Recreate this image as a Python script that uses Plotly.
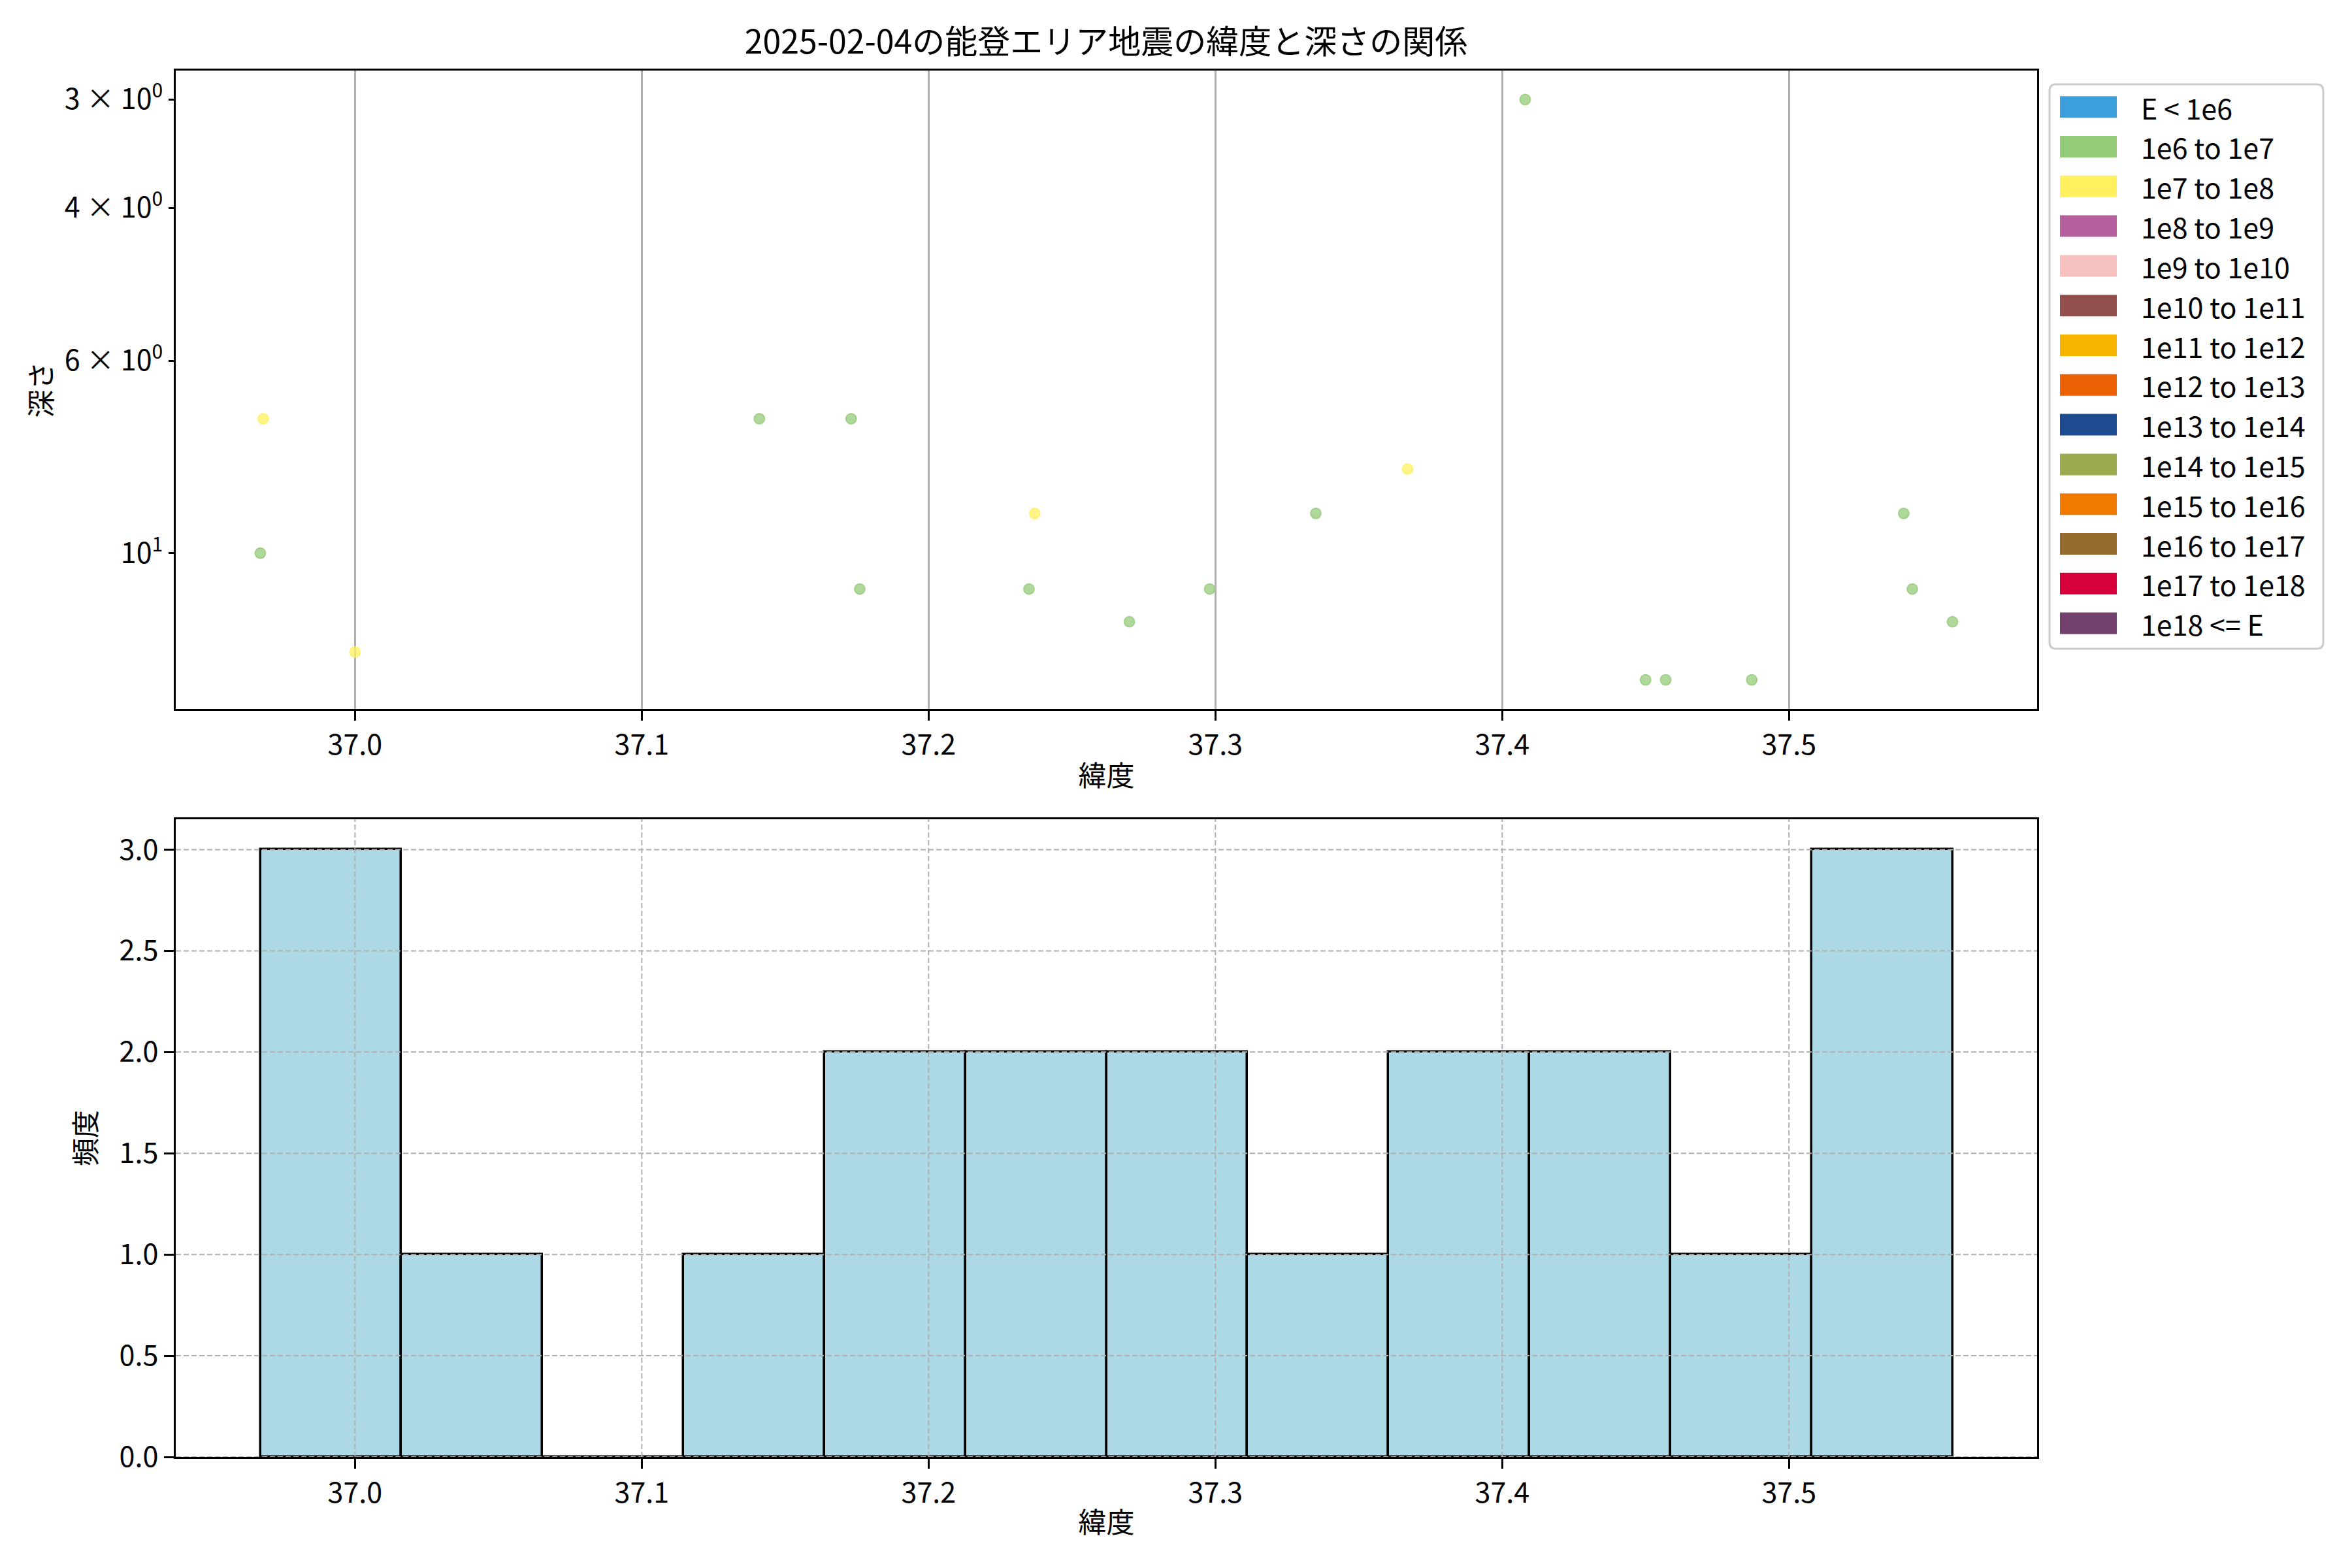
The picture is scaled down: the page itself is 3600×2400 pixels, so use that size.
import numpy as np
import plotly.graph_objects as go

# ---------------- data ----------------
title_text = "2025-02-04の能登エリア地震の緯度と深さの関係"
latitudes = [36.968, 36.967, 37.000, 37.041, 37.141, 37.173, 37.176, 37.237, 37.235, 37.270,
             37.298, 37.335, 37.367, 37.408, 37.450, 37.457, 37.487, 37.540, 37.543, 37.557]
depths = [7, 10, 13, 0, 7, 7, 11, 9, 11, 12,
          11, 9, 8, 3, 14, 14, 14, 9, 11, 12]
energy_class = ["1e7 to 1e8", "1e6 to 1e7", "1e7 to 1e8", "1e6 to 1e7", "1e6 to 1e7",
                "1e6 to 1e7", "1e6 to 1e7", "1e7 to 1e8", "1e6 to 1e7", "1e6 to 1e7",
                "1e6 to 1e7", "1e6 to 1e7", "1e7 to 1e8", "1e6 to 1e7", "1e6 to 1e7",
                "1e6 to 1e7", "1e6 to 1e7", "1e6 to 1e7", "1e6 to 1e7", "1e6 to 1e7"]
legend_labels = ["E < 1e6", "1e6 to 1e7", "1e7 to 1e8", "1e8 to 1e9", "1e9 to 1e10",
                 "1e10 to 1e11", "1e11 to 1e12", "1e12 to 1e13", "1e13 to 1e14",
                 "1e14 to 1e15", "1e15 to 1e16", "1e16 to 1e17", "1e17 to 1e18", "1e18 <= E"]
legend_colors = ["#3A9FDB", "#94CB78", "#FFF05F", "#B660A0", "#F5C0BD", "#934F4B",
                 "#F7B500", "#EB6103", "#1C4B8F", "#9BAA4F", "#F07A00", "#946B2D",
                 "#D8003A", "#74406E"]
x_ticks = [37.0, 37.1, 37.2, 37.3, 37.4, 37.5]
depth_label_ticks = [3, 4, 6, 10]
depth_label_text = ["3 × 10<sup>0</sup>", "4 × 10<sup>0</sup>", "6 × 10<sup>0</sup>", "10<sup>1</sup>"]
depth_minor_ticks = [5, 7, 8, 9]
depth_major_ticks = [10]
count_ticks = [0.0, 0.5, 1.0, 1.5, 2.0, 2.5, 3.0]
n_bins = 12

# ---------------- figure geometry ----------------
W, H = 3600, 2400
FONT = "Noto Sans CJK JP"
FS = 43

def px_x(p):
    return p / W

def px_y(p):
    return 1 - p / H

x_dom = [px_x(269), px_x(3118)]
top_dom = [px_y(1085), px_y(108)]
bot_dom = [px_y(2230), px_y(1254)]

lat = np.array(latitudes)
dep = np.array(depths, dtype=float)
span = lat.max() - lat.min()
x_range = [lat.min() - 0.05 * span, lat.max() + 0.05 * span]

pos = dep[dep > 0]
lmin, lmax = np.log10(pos.min()), np.log10(pos.max())
lspan = lmax - lmin
y_range_log = [lmax + 0.05 * lspan, lmin - 0.05 * lspan]  # inverted

counts, edges = np.histogram(lat, bins=n_bins)
centers = (edges[:-1] + edges[1:]) / 2
widths = np.diff(edges)

color_map = dict(zip(legend_labels, legend_colors))

def rgba(hexc, a):
    h = hexc.lstrip("#")
    r, g, b = int(h[0:2], 16), int(h[2:4], 16), int(h[4:6], 16)
    return f"rgba({r},{g},{b},{a})"

fig = go.Figure()

for lab in legend_labels:
    idx = [i for i, c in enumerate(energy_class) if c == lab]
    if not idx:
        continue
    fig.add_trace(go.Scatter(
        x=[latitudes[i] for i in idx], y=[depths[i] for i in idx],
        mode="markers", name=lab, showlegend=False,
        marker=dict(size=16, color=rgba(color_map[lab], 0.75),
                    line=dict(color=rgba(color_map[lab], 0.8), width=1.8)),
        xaxis="x", yaxis="y"))

fig.add_trace(go.Bar(
    x=centers, y=counts, width=widths, showlegend=False,
    marker=dict(color="#ADD8E6", line=dict(color="black", width=3.5)),
    xaxis="x2", yaxis="y2"))

axis_common = dict(
    showline=True, linecolor="black", linewidth=3.3, mirror=True,
    ticks="outside", tickcolor="black", tickwidth=3.3,
    tickfont=dict(family=FONT, size=FS, color="black"),
    zeroline=False, automargin=False,
)
overlay_common = dict(
    overlaying="y", anchor="x", side="left", type="log", range=y_range_log,
    tickmode="array", ticks="outside", tickcolor="black", tickwidth=3.3,
    showline=False, zeroline=False, showticklabels=False, automargin=False,
)

fig.update_layout(
    width=W, height=H, autosize=False,
    margin=dict(l=0, r=0, t=0, b=0, autoexpand=False),
    showlegend=False,
    paper_bgcolor="white", plot_bgcolor="white",
    font=dict(family=FONT, size=FS, color="black"),
    title=dict(text=title_text, x=px_x(1693), xanchor="center",
               y=px_y(64), yanchor="middle",
               font=dict(family=FONT, size=50, color="black")),
    xaxis=dict(domain=x_dom, anchor="y", range=x_range,
               tickmode="array", tickvals=x_ticks, ticktext=[f"{v:.1f}" for v in x_ticks],
               ticklen=15, showgrid=True, gridcolor="#b0b0b0", gridwidth=3,
               title=dict(text="緯度", font=dict(family=FONT, size=FS), standoff=8),
               **axis_common),
    yaxis=dict(domain=top_dom, anchor="x", type="log", range=y_range_log,
               tickmode="array", tickvals=depth_label_ticks, ticktext=depth_label_text,
               ticklen=8, showgrid=False,
               title=dict(text="深さ", font=dict(family=FONT, size=FS), standoff=6),
               **axis_common),
    yaxis3=dict(tickvals=depth_minor_ticks, ticklen=8, showgrid=False, **overlay_common),
    yaxis4=dict(tickvals=depth_major_ticks, ticklen=15, showgrid=True,
                gridcolor="#b0b0b0", gridwidth=3, **overlay_common),
    xaxis2=dict(domain=x_dom, anchor="y2", range=x_range,
                tickmode="array", tickvals=x_ticks, ticktext=[f"{v:.1f}" for v in x_ticks],
                ticklen=15, showgrid=False,
                title=dict(text="緯度", font=dict(family=FONT, size=FS), standoff=6),
                **axis_common),
    yaxis2=dict(domain=bot_dom, anchor="x2", range=[0, counts.max() * 1.05],
                tickmode="array", tickvals=count_ticks, ticktext=[f"{v:.1f}" for v in count_ticks],
                ticklen=15, showgrid=False,
                title=dict(text="頻度", font=dict(family=FONT, size=FS), standoff=22),
                **axis_common),
    bargap=0,
)

# dashed grid of histogram drawn above bars (as in the reference)
shapes = []
for v in x_ticks:
    shapes.append(dict(type="line", xref="x2", yref="y2 domain", x0=v, x1=v, y0=0, y1=1,
                       line=dict(color="#b0b0b0", width=2, dash="8px,4px"), layer="above"))
for v in count_ticks:
    shapes.append(dict(type="line", xref="x2 domain", yref="y2", x0=0, x1=1, y0=v, y1=v,
                       line=dict(color="#b0b0b0", width=2, dash="8px,4px"), layer="above"))

# legend box (drawn manually to reproduce the wide colour patches)
bx0, bx1, by0, by1 = px_x(3137), px_x(3556), px_y(129), px_y(993)
rx, ry = 10 / W, 10 / H
path = (f"M {bx0+rx},{by0} L {bx1-rx},{by0} Q {bx1},{by0} {bx1},{by0-ry} "
        f"L {bx1},{by1+ry} Q {bx1},{by1} {bx1-rx},{by1} L {bx0+rx},{by1} "
        f"Q {bx0},{by1} {bx0},{by1+ry} L {bx0},{by0-ry} Q {bx0},{by0} {bx0+rx},{by0} Z")
shapes.append(dict(type="path", xref="paper", yref="paper", path=path,
                   line=dict(color="#cccccc", width=3), fillcolor="rgba(255,255,255,0.8)",
                   layer="above"))
annotations = []
row0, row_step = 163.7, 60.8
for i, (lab, col) in enumerate(zip(legend_labels, legend_colors)):
    cy = row0 + i * row_step
    shapes.append(dict(type="rect", xref="paper", yref="paper",
                       x0=px_x(3153), x1=px_x(3240), y0=px_y(cy - 16.5), y1=px_y(cy + 16.5),
                       fillcolor=col, line=dict(width=0), layer="above"))
    annotations.append(dict(xref="paper", yref="paper", x=px_x(3275), y=px_y(cy),
                            xanchor="left", yanchor="middle", showarrow=False,
                            text=lab.replace("<", "&lt;"),
                            font=dict(family=FONT, size=FS, color="black")))

fig.update_layout(shapes=shapes, annotations=annotations)
fig.write_html("out.html", config={"displayModeBar": False},
               post_script="document.body.style.margin='0';document.body.style.overflow='hidden';")
